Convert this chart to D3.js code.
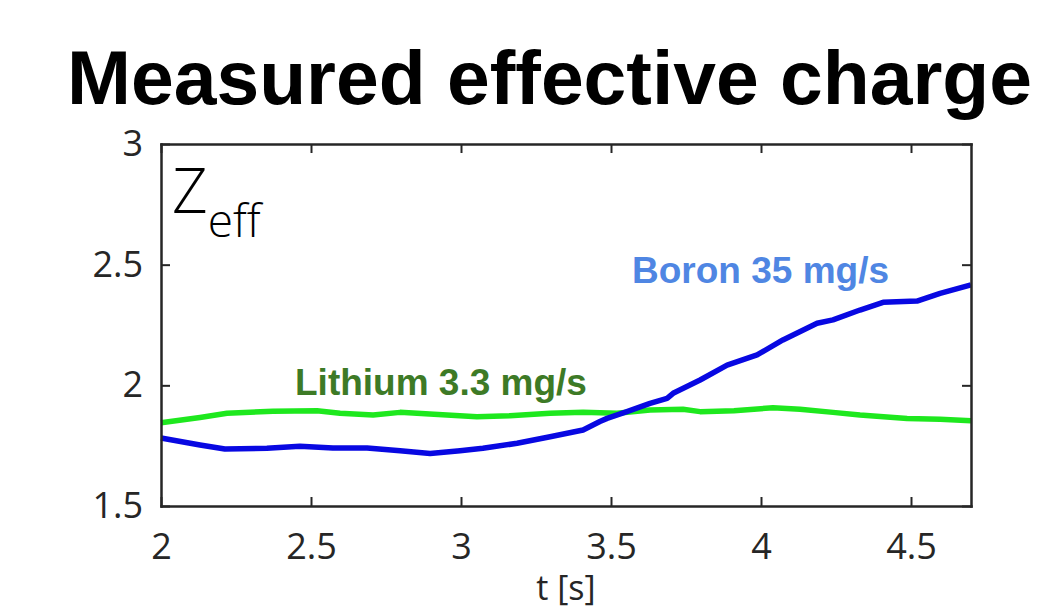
<!DOCTYPE html>
<html>
<head>
<meta charset="utf-8">
<script src="https://cdn.jsdelivr.net/npm/d3@7"></script>
<style>
  body { margin: 0; background: #fff; }
  svg { display: block; }
  .axis path, .axis line { stroke: #262626; }
  .axis text { font-family: "Open Sans", sans-serif; font-size: 36px; fill: #262626; }
</style>
</head>
<body>
<div id="chart"></div>
<script>
// data
const tBoron = [2.0, 2.13, 2.213, 2.353, 2.463, 2.573, 2.687, 2.797, 2.897, 2.997, 3.073, 3.187, 3.297, 3.407, 3.463, 3.487, 3.553, 3.63, 3.687, 3.707, 3.797, 3.887, 3.987, 4.073, 4.187, 4.24, 4.33, 4.407, 4.52, 4.597, 4.7];
const zBoron = [1.782, 1.753, 1.736, 1.739, 1.748, 1.74, 1.74, 1.729, 1.718, 1.729, 1.739, 1.76, 1.787, 1.815, 1.85, 1.863, 1.891, 1.925, 1.946, 1.967, 2.022, 2.084, 2.126, 2.188, 2.257, 2.271, 2.312, 2.344, 2.349, 2.381, 2.416];

const tLithium = [2.0, 2.13, 2.22, 2.373, 2.52, 2.597, 2.707, 2.797, 2.91, 3.053, 3.163, 3.297, 3.407, 3.52, 3.63, 3.74, 3.797, 3.91, 4.04, 4.13, 4.24, 4.33, 4.487, 4.597, 4.7];
const zLithium = [1.845, 1.867, 1.884, 1.893, 1.895, 1.884, 1.877, 1.888, 1.88, 1.87, 1.874, 1.884, 1.888, 1.884, 1.898, 1.901, 1.891, 1.895, 1.907, 1.901, 1.888, 1.877, 1.863, 1.859, 1.853];

const xTicks = [2, 2.5, 3, 3.5, 4, 4.5];
const yTicks = [1.5, 2, 2.5, 3];

const W = 1048, H = 610;
const margin = {left: 161, top: 144, right: 77, bottom: 104};
const width = W - margin.left - margin.right;
const height = H - margin.top - margin.bottom;

let svg = d3.select(`#chart`).append(`svg`)
    .attr(`width`, W)
    .attr(`height`, H);

// title
svg.append(`text`)
    .attr(`x`, 67)
    .attr(`y`, 104)
    .attr(`textLength`, 965)
    .attr(`lengthAdjust`, `spacingAndGlyphs`)
    .style(`font-family`, `"Liberation Sans", Arial, sans-serif`)
    .style(`font-weight`, `bold`)
    .style(`font-size`, `76px`)
    .attr(`fill`, `#000`)
    .text(`Measured effective charge`);

let graph = svg.append(`g`)
    .attr(`transform`, `translate(${margin.left},${margin.top})`);

let x = d3.scaleLinear().domain([2, 4.7]).range([0, width]);
let y = d3.scaleLinear().domain([1.5, 3]).range([height, 0]);

// lines
let line = d3.line()
    .x(d => x(d[0]))
    .y(d => y(d[1]));

const lithium = tLithium.map((t, i) => [t, zLithium[i]]);
const boron = tBoron.map((t, i) => [t, zBoron[i]]);

graph.append(`path`)
    .datum(lithium)
    .attr(`fill`, `none`)
    .attr(`stroke`, `#1ee81e`)
    .attr(`stroke-width`, 5.5)
    .attr(`stroke-linejoin`, `round`)
    .attr(`d`, line);

graph.append(`path`)
    .datum(boron)
    .attr(`fill`, `none`)
    .attr(`stroke`, `#0808e2`)
    .attr(`stroke-width`, 5.5)
    .attr(`stroke-linejoin`, `round`)
    .attr(`d`, line);

// axes (box with inward ticks)
function styleAxis(g) {
    g.select(`.domain`).attr(`stroke-width`, 2.5);
    g.selectAll(`.tick line`).attr(`stroke-width`, 2);
}

graph.append(`g`)
    .attr(`class`, `x axis`)
    .attr(`transform`, `translate(0,${height})`)
    .call(d3.axisBottom(x).tickValues(xTicks).tickSizeInner(-9).tickSizeOuter(0).tickPadding(27).tickFormat(d3.format(`~g`)))
    .call(styleAxis);

graph.append(`g`)
    .attr(`class`, `x axis`)
    .call(d3.axisTop(x).tickValues(xTicks).tickSizeInner(-9).tickSizeOuter(0).tickFormat(``))
    .call(styleAxis);

graph.append(`g`)
    .attr(`class`, `y axis`)
    .call(d3.axisLeft(y).tickValues(yTicks).tickSizeInner(-9).tickSizeOuter(0).tickPadding(18).tickFormat(d3.format(`~g`)))
    .call(styleAxis);

graph.append(`g`)
    .attr(`class`, `y axis`)
    .attr(`transform`, `translate(${width},0)`)
    .call(d3.axisRight(y).tickValues(yTicks).tickSizeInner(-9).tickSizeOuter(0).tickFormat(``))
    .call(styleAxis);

graph.selectAll(`.axis .domain`).attr(`stroke-linecap`, `square`);

// x label
svg.append(`text`)
    .attr(`x`, margin.left + width / 2)
    .attr(`y`, 600)
    .attr(`text-anchor`, `middle`)
    .style(`font-family`, `"Open Sans", sans-serif`)
    .style(`font-size`, `34px`)
    .attr(`fill`, `#262626`)
    .text(`t [s]`);

// Zeff label
let zl = svg.append(`text`)
    .attr(`x`, 172)
    .attr(`y`, 213)
    .style(`font-family`, `"Open Sans", sans-serif`)
    .style(`font-weight`, 300)
    .attr(`fill`, `#000`);
zl.append(`tspan`).style(`font-size`, `62px`).text(`Z`);
zl.append(`tspan`).style(`font-size`, `46px`).attr(`dy`, 24).text(`eff`);

// series labels
svg.append(`text`)
    .attr(`x`, 632)
    .attr(`y`, 283)
    .style(`font-family`, `"Liberation Sans", Arial, sans-serif`)
    .style(`font-weight`, `bold`)
    .style(`font-size`, `37px`)
    .attr(`fill`, `#4f86e3`)
    .text(`Boron 35 mg/s`);

svg.append(`text`)
    .attr(`x`, 295)
    .attr(`y`, 395)
    .style(`font-family`, `"Liberation Sans", Arial, sans-serif`)
    .style(`font-weight`, `bold`)
    .style(`font-size`, `37px`)
    .attr(`fill`, `#3d7a26`)
    .text(`Lithium 3.3 mg/s`);
</script>
</body>
</html>
